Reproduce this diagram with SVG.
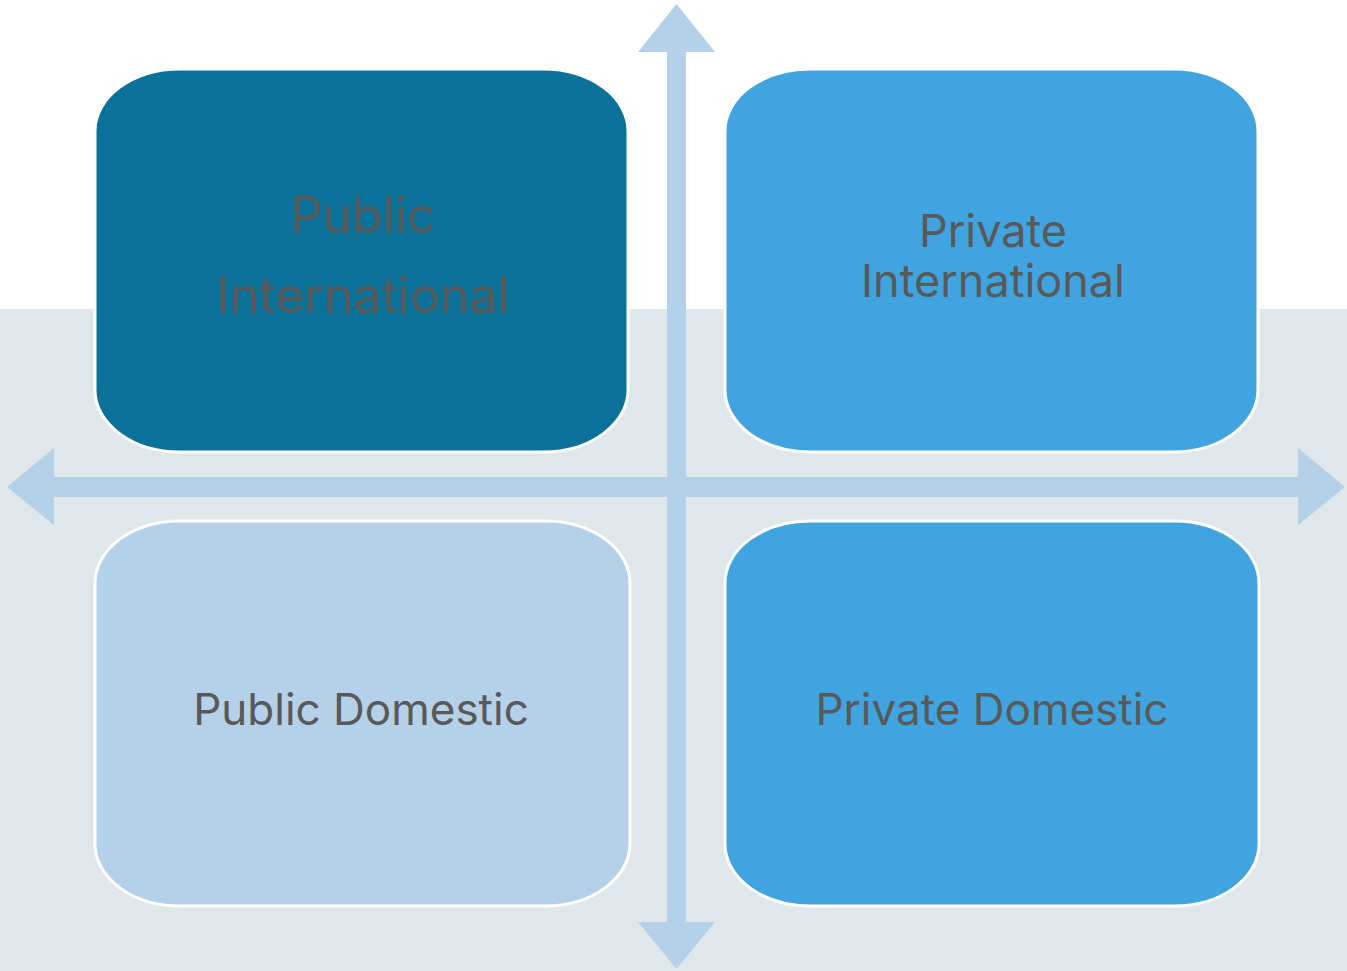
<svg xmlns="http://www.w3.org/2000/svg" width="1347" height="971" viewBox="0 0 1347 971">
  <style>
    .box { stroke: #FFFFFF; stroke-width: 3; }
    .lbl { font-family: Inter, "Open Sans", "Liberation Sans", sans-serif; fill: #595959; text-anchor: middle; }
    .arrow { fill: #B4D1E9; }
  </style>
  <rect x="0" y="0" width="1347" height="971" fill="#FFFFFF"/>
  <rect x="0" y="309" width="1347" height="662" fill="#E0E7EB"/>
  <g id="connectors">
    <polygon class="arrow" points="676.5,4 715,52 686,52 686,922 715,922 676.5,969 638,922 667,922 667,52 638,52"/>
    <polygon class="arrow" points="7,487 54,448 54,477 1298,477 1298,448 1345,487 1298,525 1298,497 54,497 54,525"/>
  </g>
  <g id="public-international">
    <rect class="box" x="95" y="69" width="533" height="383" rx="85" ry="62" fill="#0A7199"/>
    <text class="lbl" x="363" y="233" font-size="50">Public</text>
    <text class="lbl" x="363" y="313" font-size="50">International</text>
  </g>
  <g id="private-international">
    <rect class="box" x="725" y="69" width="533" height="383" rx="85" ry="62" fill="#40A4E0"/>
    <text class="lbl" x="993" y="247" font-size="45">Private</text>
    <text class="lbl" x="993" y="297" font-size="45">International</text>
  </g>
  <g id="public-domestic">
    <rect class="box" x="95" y="521" width="535" height="385" rx="85" ry="62" fill="#B4D1E9"/>
    <text class="lbl" x="361" y="725" font-size="44">Public Domestic</text>
  </g>
  <g id="private-domestic">
    <rect class="box" x="725" y="521" width="534" height="385" rx="85" ry="62" fill="#40A4E0"/>
    <text class="lbl" x="992" y="725" font-size="44">Private Domestic</text>
  </g>
</svg>
